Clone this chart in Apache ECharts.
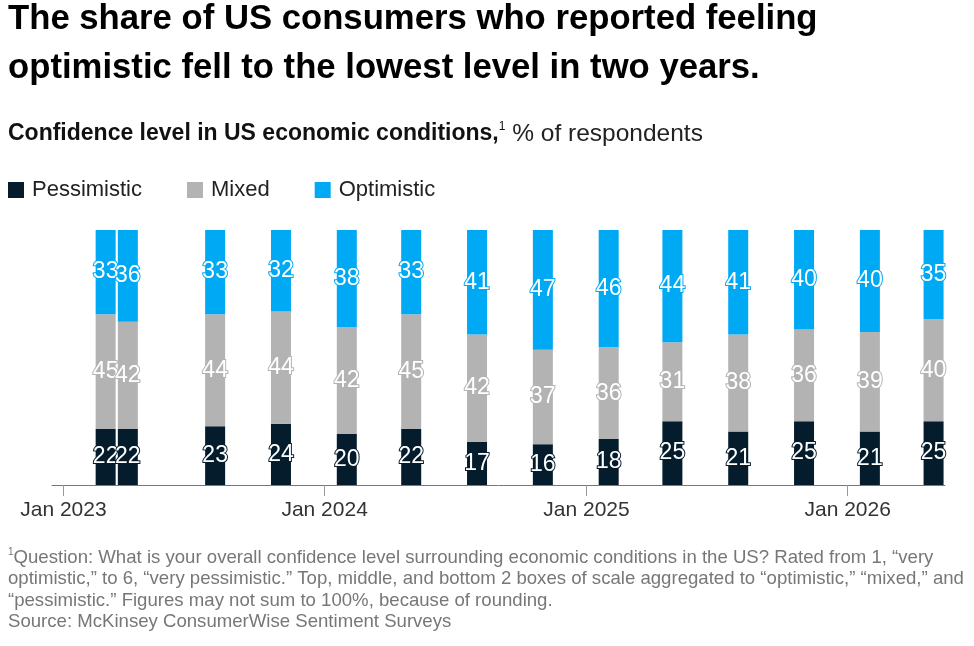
<!DOCTYPE html>
<html>
<head>
<meta charset="utf-8">
<script src="https://cdn.jsdelivr.net/npm/echarts@6/dist/echarts.min.js"></script>
<style>
  html, body { margin: 0; padding: 0; background: #fff; }
  #chart { width: 974px; height: 646px; }
</style>
</head>
<body>
<div id="chart"></div>
<script>
// survey waves
var dates = ['2023-03-01', '2023-04-01', '2023-08-01', '2023-11-01', '2024-02-01', '2024-05-01', '2024-08-01',
  '2024-11-01', '2025-02-01', '2025-05-01', '2025-08-01', '2025-11-01', '2026-02-01', '2026-05-01'];
var pessimistic = [22, 22, 23, 24, 20, 22, 17, 16, 18, 25, 21, 25, 21, 25];
var mixed = [45, 42, 44, 44, 42, 45, 42, 37, 36, 31, 38, 36, 39, 40];
var optimistic = [33, 36, 33, 32, 38, 33, 41, 47, 46, 44, 41, 40, 40, 35];

var seriesNames = ['Pessimistic', 'Mixed', 'Optimistic'];
var colors = ['#051c2c', '#b3b3b3', '#00a9f4'];

var font = 'Liberation Sans';

function pairs(values) {
  var out = [];
  for (var i = 0; i < dates.length; i++) {
    out.push([dates[i], values[i]]);
  }
  return out;
}

function barSeries(name, values, color) {
  return {
    name: name,
    type: 'bar',
    stack: 'all',
    barWidth: 20,
    data: pairs(values),
    itemStyle: { color: color },
    label: {
      show: true,
      position: 'inside',
      color: '#fff',
      fontFamily: font,
      fontSize: 23,
      textBorderColor: color,
      textBorderWidth: 2
    }
  };
}

var chart = echarts.init(document.getElementById('chart'));

chart.setOption({
  animation: false,
  color: colors,
  title: [
    {
      text: 'The share of US consumers who reported feeling\noptimistic fell to the lowest level in two years.',
      left: 8,
      top: -5,
      padding: 0,
      textStyle: { fontFamily: font, fontSize: 34.7, fontWeight: 'bold', lineHeight: 49, color: '#000' }
    },
    {
      text: '{b|Confidence level in US economic conditions,}{sup|1}{r| % of respondents}',
      left: 8,
      top: 121,
      padding: 0,
      textStyle: {
        rich: {
          b: { fontFamily: font, fontSize: 23, fontWeight: 'bold', color: '#111', lineHeight: 26 },
          sup: { fontFamily: font, fontSize: 12, fontWeight: 'normal', color: '#111', verticalAlign: 'top', lineHeight: 26 },
          r: { fontFamily: font, fontSize: 24.5, fontWeight: 'normal', color: '#222', lineHeight: 26 }
        }
      }
    },
    {
      text: '{sup|1}{t|Question: What is your overall confidence level surrounding economic conditions in the US? Rated from 1, \u201cvery}\n' +
        '{t|optimistic,\u201d to 6, \u201cvery pessimistic.\u201d Top, middle, and bottom 2 boxes of scale aggregated to \u201coptimistic,\u201d \u201cmixed,\u201d and}\n' +
        '{t|\u201cpessimistic.\u201d Figures may not sum to 100%, because of rounding.}\n' +
        '{t|Source: McKinsey ConsumerWise Sentiment Surveys}',
      left: 8,
      top: 547,
      padding: 0,
      textStyle: {
        rich: {
          sup: { fontFamily: font, fontSize: 10, fontWeight: 'normal', color: '#777', verticalAlign: 'top', lineHeight: 21.5 },
          t: { fontFamily: font, fontSize: 18.6, fontWeight: 'normal', color: '#777', lineHeight: 21.5 }
        }
      }
    }
  ],
  legend: {
    left: 8,
    top: 179,
    padding: 0,
    icon: 'rect',
    itemWidth: 16,
    itemHeight: 16,
    itemGap: 45,
    textStyle: { fontFamily: font, fontSize: 22, color: '#222', padding: [0, 0, 0, 3] },
    data: seriesNames
  },
  grid: { left: 52, right: 29, top: 230, bottom: 161 },
  xAxis: {
    type: 'time',
    // ECharts pads a time axis by half a bar on each side, so these sit inside the drawn ends
    min: '2022-12-30',
    max: '2026-05-03',
    minInterval: 365 * 24 * 3600 * 1000,
    splitNumber: 3,
    axisLine: { lineStyle: { color: '#777', width: 1 } },
    axisTick: { show: true, length: 11, lineStyle: { color: '#999' } },
    splitLine: { show: false },
    axisLabel: {
      margin: 15,
      fontFamily: font,
      fontSize: 21,
      color: '#333',
      showMinLabel: false,
      showMaxLabel: false,
      formatter: function (val) {
        var d = new Date(val);
        if (d.getMonth() !== 0 || d.getDate() !== 1) {
          return '';
        }
        return 'Jan ' + d.getFullYear();
      }
    }
  },
  yAxis: {
    type: 'value',
    min: 0,
    max: 100,
    show: false
  },
  series: [
    barSeries(seriesNames[0], pessimistic, colors[0]),
    barSeries(seriesNames[1], mixed, colors[1]),
    barSeries(seriesNames[2], optimistic, colors[2])
  ]
});
</script>
</body>
</html>
